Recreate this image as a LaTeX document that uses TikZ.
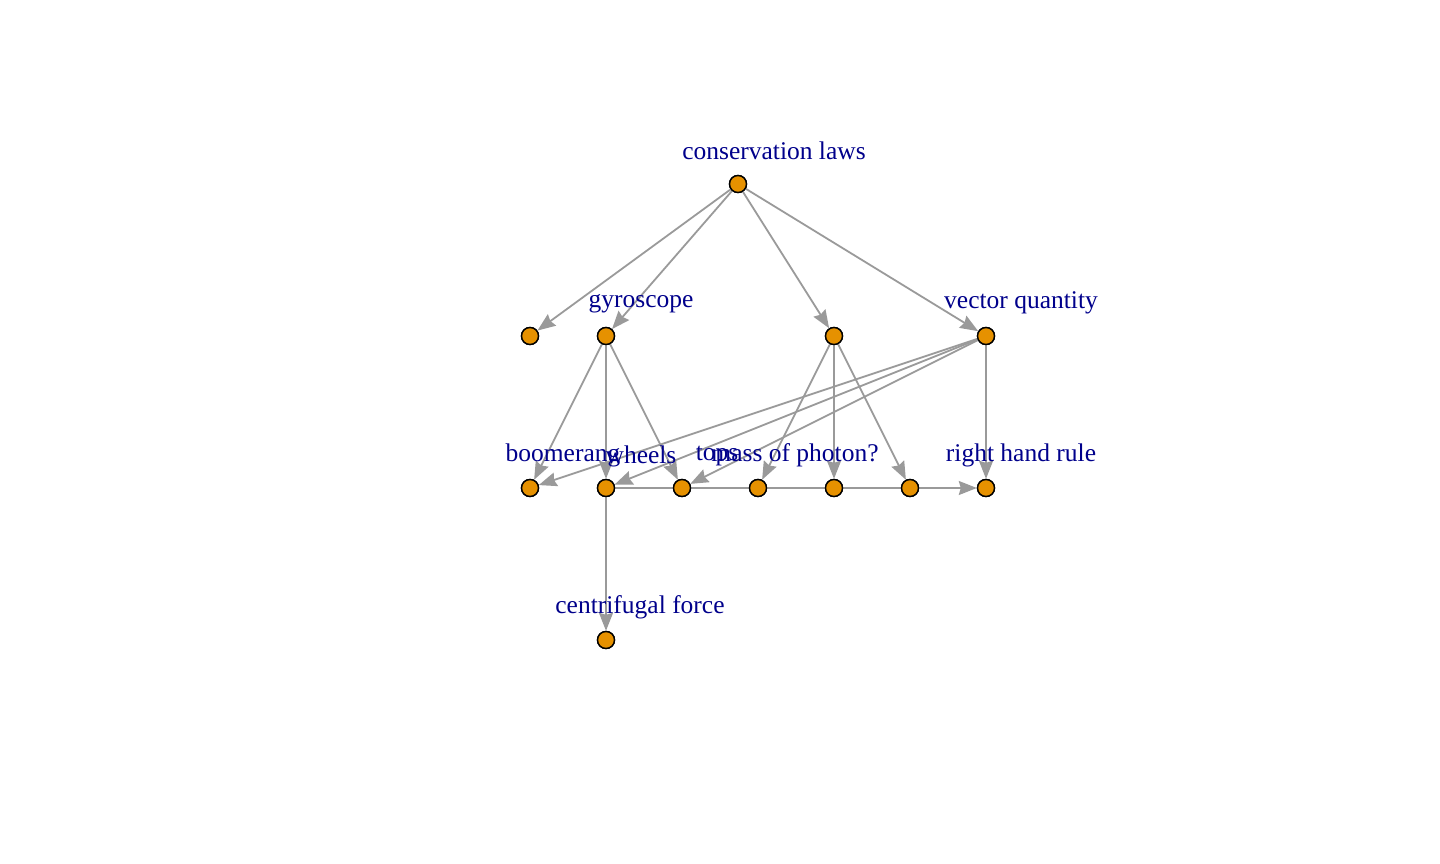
\documentclass[tikz,border=0pt]{standalone}
\usepackage{fontspec}
\setmainfont{Liberation Serif}
\usetikzlibrary{arrows.meta}
\definecolor{vfill}{HTML}{E69100}
\definecolor{ecol}{HTML}{9A9A9A}
\definecolor{lcol}{HTML}{00008B}
\begin{document}
\begin{tikzpicture}[x=1pt,y=-1pt,
  vert/.style={circle,draw=black,line width=1.4pt,fill=vfill,minimum size=17pt,inner sep=0pt},
  lab/.style={text=lcol,font=\fontsize{25.5}{30}\selectfont,anchor=base,inner sep=0pt},
  edge/.style={draw=ecol,line width=1.8pt,-{Stealth[length=18pt,width=14pt,inset=2pt]}}]
\useasboundingbox (0,0) rectangle (1440,864);
\node[vert] (cons) at (738,184) {};
\node[vert] (a) at (530,336) {};
\node[vert] (gyro) at (606,336) {};
\node[vert] (c) at (834,336) {};
\node[vert] (vec) at (986,336) {};
\node[vert] (boom) at (530,488) {};
\node[vert] (wheel) at (606,488) {};
\node[vert] (tops) at (682,488) {};
\node[vert] (mass) at (758,488) {};
\node[vert] (e) at (834,488) {};
\node[vert] (f) at (910,488) {};
\node[vert] (rhr) at (986,488) {};
\node[vert] (cent) at (606,640) {};
\draw[edge] (cons) -- (a);
\draw[edge] (cons) -- (gyro);
\draw[edge] (cons) -- (c);
\draw[edge] (cons) -- (vec);
\draw[edge] (gyro) -- (boom);
\draw[edge] (gyro) -- (wheel);
\draw[edge] (gyro) -- (tops);
\draw[edge] (c) -- (mass);
\draw[edge] (c) -- (e);
\draw[edge] (c) -- (f);
\draw[edge] (vec) -- (boom);
\draw[edge] (vec) -- (wheel);
\draw[edge] (vec) -- (tops);
\draw[edge] (vec) -- (rhr);
\draw[edge] (wheel) -- (rhr);
\draw[edge] (wheel) -- (cent);
\foreach \n in {cons,a,gyro,c,vec,boom,wheel,tops,mass,e,f,rhr,cent}{\node[vert] at (\n) {};}
\node[lab] (lcons) at (774,159) {conservation laws};
\node[lab] (lgyro) at (641,307) {gyroscope};
\node[lab] (lvec) at (1021,308) {vector quantity};
\node[lab] (lboom) at (563,461) {boomerang};
\node[lab] (lwheel) at (641,463) {wheels};
\node[lab] (ltops) at (717,460) {tops};
\node[lab] (lmass) at (795,461) {mass of photon?};
\node[lab] (lrhr) at (1021,461) {right hand rule};
\node[lab] (lcent) at (640,613) {centrifugal force};
\end{tikzpicture}
\end{document}
